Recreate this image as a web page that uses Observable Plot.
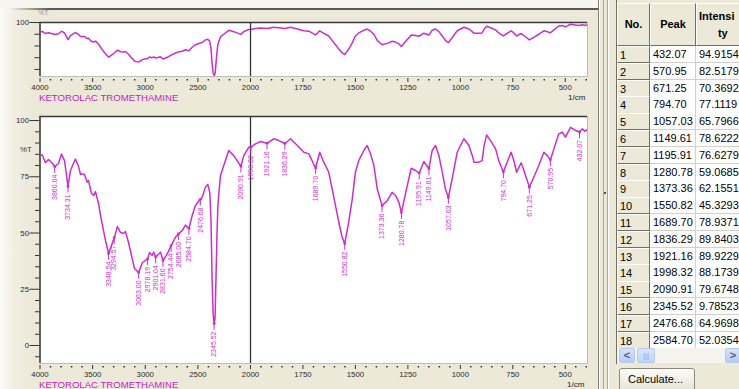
<!DOCTYPE html>
<html><head><meta charset="utf-8">
<script src="https://cdn.jsdelivr.net/npm/d3@7"></script>
<script src="https://cdn.jsdelivr.net/npm/@observablehq/plot@0.6"></script>
<style>
html,body{margin:0;padding:0}
body{width:739px;height:389px;overflow:hidden;position:relative;background:#ece9d8;font-family:"Liberation Sans",Arial,sans-serif}
#leftbg{position:absolute;left:0;top:0;width:598px;height:389px;background:linear-gradient(to right,#fbfaf6 0px,#f1efe4 14px,#ece9d8 32px)}
#topbar{position:absolute;left:0;top:0;width:598px;height:8px;background:#f6f5f0}
#topline{position:absolute;left:10px;top:8px;width:588px;height:2px;background:linear-gradient(to right,rgba(90,90,90,0),#5a5a5a 40px)}
.chart{position:absolute;left:0}
#topChart{top:0}
#mainChart{top:100px}
.title{position:absolute;left:39px;font-size:9.6px;color:#c21fc2;white-space:nowrap}
.unit{position:absolute;font-size:8px;color:#222;white-space:nowrap}
.pct{position:absolute;font-size:7.8px;color:#333}
#side{position:absolute;left:598px;top:0;width:141px;height:389px;background:#ece9d8;overflow:hidden}
.vl{position:absolute;top:0;width:1px;height:389px}
.cell{position:absolute;box-sizing:border-box;font-size:11px;line-height:16px;white-space:nowrap;overflow:hidden;color:#000}
.no{background:#ece9d8;border-top:1px solid #fff;border-left:1px solid #fff;border-right:1px solid #716f64;border-bottom:1px solid #716f64;padding-left:2px}
.val{background:#fff;border-right:1px solid #d4d0c8;border-bottom:1px solid #d4d0c8;padding-left:3px}
.hd{background:#ece9d8;border-top:1px solid #fff;border-left:1px solid #fff;border-right:1px solid #716f64;border-bottom:1px solid #716f64;font-weight:bold;text-align:center;line-height:17px;display:flex;align-items:center;justify-content:center}
</style></head><body>
<div id="leftbg"></div><div id="topbar"></div><div id="topline"></div>
<div class="pct" style="left:38px;top:9px;color:#9a9a9a;font-size:7px">%T</div>
<div id="topChart" class="chart"></div>
<div id="mainChart" class="chart"></div>
<div class="title" style="top:92px">KETOROLAC TROMETHAMINE</div>
<div class="unit" style="left:568px;top:93px">1/cm</div>
<div class="pct" style="left:20px;top:145px">%T</div>
<div class="title" style="top:379px">KETOROLAC TROMETHAMINE</div>
<div class="unit" style="left:567px;top:380px">1/cm</div>
<div id="side"></div>
<script>
// ---- spectrum (wavenumber 1/cm, transmittance %T) ----
const wavenumber = [3995,3979,3948,3919,3881,3860,3824,3796,3767,3734,3710,3682,3663,3634,3615,3599,3577,3552,3539,3511,3489,3473,3444,3425,3406,3378,3348,3321,3294,3264,3235,3207,3188,3159,3131,3102,3063,3026,2978,2960,2934,2919,2901,2871,2855,2831,2791,2754,2713,2685,2649,2618,2585,2554,2523,2477,2459,2428,2406,2387,2375,2365,2355,2345.5,2337,2328,2318,2310,2301,2285,2254,2206,2159,2091,2064,2017,1998,1976,1952,1921,1889,1865,1836,1809,1777,1746,1722,1690,1670,1651,1627,1611,1595,1579,1563,1551,1532,1515,1500,1484,1460,1444,1428,1412,1396,1373,1348,1325,1309,1293,1281,1253,1234,1214,1196,1174,1150,1134,1118,1102,1086,1071,1057,1039,1015,983,959,943,935,912,896,888,875,856,832,817,795,777,758,745,732,721,710,697,671,650,626,602,586,571,554,531,514,499,475,451,432,419,408,398];
const transmittance = [84.4,84.8,81.3,82.7,80.9,79.5,80.9,85.1,82.2,70.7,77.8,80.9,82.9,79.6,76.0,76.3,76.0,72.6,73.3,67.6,66.7,68.4,63.1,57.8,53.3,46.7,40.9,44.4,48.0,52.9,50.2,49.8,50.7,45.8,40.0,34.2,32.5,36.9,38.5,41.3,40.0,41.5,39.3,40.7,41.5,37.8,40.7,44.4,48.1,49.6,51.1,53.5,52.0,57.8,62.2,65.0,65.9,70.4,71.6,68.1,55,30,14,9.8,12,30,50,62,67.4,75.6,80.0,86.7,84.4,79.7,84.4,88.1,88.2,89.6,90.7,89.9,91.9,91.1,89.8,91.9,88.9,85.9,85.2,78.9,85.9,81.5,77.0,69.6,62.2,54.8,48.1,45.3,54.8,65.2,77.0,82.2,86.7,88.9,85.2,80.0,69.6,62.2,64.4,68.1,66.7,63.7,59.1,71.1,78.8,77.8,76.6,81.8,78.6,86.7,88.9,84.4,77.0,69.6,65.8,74.1,85.9,91.9,88.9,84.4,81.5,81.5,82.2,88.1,93.6,91.1,87.4,82.2,77.1,81.5,85.9,82.2,77.0,79.2,81.2,77.8,70.4,74.8,80.0,85.9,84.4,82.5,87.4,94.1,94.8,92.6,97.0,95.6,94.9,96.3,95.2,95.8];

// ---- labelled peaks ----
const peakWavenumber = [3860.04,3734.31,3348.54,3294.57,3063.00,2978.19,2901.04,2831.60,2754.44,2685.00,2584.70,2476.68,2345.52,2090.91,1998.32,1921.16,1836.29,1689.70,1550.82,1373.36,1280.78,1195.91,1149.61,1057.03,794.70,671.25,570.95,432.07];
const peakTransmittance = [79.5,70.7,40.9,48.0,32.5,38.5,39.3,37.8,44.4,49.6,52.04,64.97,9.79,79.67,88.17,89.92,89.84,78.94,45.33,62.16,59.07,76.63,78.62,65.80,77.11,70.37,82.52,94.92];

// ---- peak table ----
const tableNo = [1,2,3,4,5,6,7,8,9,10,11,12,13,14,15,16,17,18];
const tablePeak = ["432.07","570.95","671.25","794.70","1057.03","1149.61","1195.91","1280.78","1373.36","1550.82","1689.70","1836.29","1921.16","1998.32","2090.91","2345.52","2476.68","2584.70"];
const tableIntensity = ["94.9154","82.5179","70.3692","77.1119","65.7966","78.6222","76.6279","59.0685","62.1551","45.3293","78.9371","89.8403","89.9229","88.1739","79.6748","9.78523","64.9698","52.0354"];

// ---- axis ticks ----
const xMajorTicks = [4000,3500,3000,2500,2000,1750,1500,1250,1000,750,500];
const xMinorTicks = [3900,3800,3700,3600,3400,3300,3200,3100,2900,2800,2700,2600,2400,2300,2200,2100,1950,1900,1850,1800,1700,1650,1600,1550,1450,1400,1350,1300,1200,1150,1100,1050,950,900,850,800,700,650,600,550,450,400];
const mainYTicks = [0,25,50,75,100];
const mainYMinor = [-5,5,10,15,20,30,35,40,45,55,60,65,70,80,85,90,95];
const topYTicks = [100];
const topYMinor = [20,40,60,80];

const spectrum = wavenumber.map((w, i) => ({w, t: transmittance[i]}));
const peaks = peakWavenumber.map((w, i) => ({w, t: peakTransmittance[i], label: w.toFixed(2)}));

const LINE = "#cc2ecc";
const W = 598;
const xScale = {type: "linear", domain: [4000, 2000, 394], range: [39.5, 250, 587]};
const axisFont = {fontSize: 7.8, fill: "#2a2a2a", fontFamily: "Liberation Sans, Arial, sans-serif"};

function xAxes() {
  return [
    Plot.axisX({ticks: xMajorTicks, tickSize: 4, tickPadding: 2, dy: 2, label: null, stroke: "#333", tickFormat: d => String(d), ...axisFont}),
    Plot.axisX({ticks: xMinorTicks, tickSize: 1.5, dy: 3, label: null, stroke: "#333", strokeWidth: 1.5, tickFormat: () => ""})
  ];
}

// ---- top overview panel ----
const topY = [8, 100];
const topChart = Plot.plot({
  width: W, height: 100,
  marginLeft: 39.5, marginRight: 11, marginTop: 22, marginBottom: 24,
  style: {background: "transparent", overflow: "visible"},
  x: xScale,
  y: {domain: topY, range: [76, 22]},
  marks: [
    Plot.frame({fill: "white", stroke: "#bdbdbd"}),
    Plot.ruleX([xScale.domain[0]], {stroke: "#3a3a3a", strokeWidth: 1.5}),
    Plot.ruleY([topY[1]], {stroke: "#3a3a3a", strokeWidth: 1.5}),
    Plot.line(spectrum, {x: "w", y: "t", stroke: LINE, strokeWidth: 1.5}),
    Plot.ruleX([2000], {stroke: "#333", strokeWidth: 1.3}),
    Plot.axisY({ticks: topYTicks, tickSize: 10, tickPadding: 1, label: null, stroke: "#333", ...axisFont}),
    Plot.axisY({ticks: topYMinor, tickSize: 5, label: null, stroke: "#333", tickFormat: () => ""}),
    ...xAxes()
  ]
});
document.getElementById("topChart").append(topChart);

// ---- main panel ----
const mainY = [-8, 101.8];
const mainChart = Plot.plot({
  width: W, height: 289,
  marginLeft: 39.5, marginRight: 11, marginTop: 16, marginBottom: 26,
  style: {background: "transparent", overflow: "visible"},
  x: xScale,
  y: {domain: mainY, range: [263, 16]},
  marks: [
    Plot.frame({fill: "white", stroke: "#bdbdbd"}),
    Plot.ruleX([xScale.domain[0]], {stroke: "#3a3a3a", strokeWidth: 1.5}),
    Plot.ruleY([mainY[1]], {stroke: "#3a3a3a", strokeWidth: 1.5}),
    Plot.line(spectrum, {x: "w", y: "t", stroke: LINE, strokeWidth: 1.5}),
    Plot.ruleX([2000], {stroke: "#333", strokeWidth: 1.3}),
    Plot.ruleX(peaks, {x: "w", y1: "t", y2: d => d.t - 3, stroke: LINE, strokeWidth: 1}),
    Plot.dot(peaks, {x: "w", y: "t", r: 1.4, fill: LINE, stroke: null}),
    Plot.text(peaks, {x: "w", y: "t", text: "label", rotate: -90, textAnchor: "end", dy: 8, fill: LINE, fontSize: 7, fontFamily: "Liberation Sans, Arial, sans-serif"}),
    Plot.axisY({ticks: mainYTicks, tickSize: 10, tickPadding: 1, label: null, stroke: "#333", ...axisFont}),
    Plot.axisY({ticks: mainYMinor, tickSize: 4.5, label: null, stroke: "#333", tickFormat: () => ""}),
    ...xAxes()
  ]
});
document.getElementById("mainChart").append(mainChart);

// ---- right-hand peak table ----
const side = document.getElementById("side");
function add(cls, css, txt) {
  const d = document.createElement("div");
  d.className = cls; d.style.cssText = css;
  if (txt !== undefined) d.innerHTML = txt;
  side.append(d); return d;
}
// splitter lines
add("vl", "left:0;background:#7f7d72");
add("vl", "left:1px;background:#fff");
add("vl", "left:5px;background:#aca899");
add("vl", "left:9px;background:#aca899");
add("vl", "left:10px;background:#fff");
add("vl", "left:18px;background:#716f64;height:364px");
add("", "position:absolute;left:6px;top:192px;width:2px;height:2px;background:#555");
const TX = 19, ROW0 = 46, RH = 16.8;
const cols = [{x: TX, w: 33}, {x: TX + 33, w: 46}, {x: TX + 79, w: 60}];
add("cell hd", `left:${cols[0].x}px;top:3px;width:${cols[0].w}px;height:${ROW0 - 3}px`, "No.");
add("cell hd", `left:${cols[1].x}px;top:3px;width:${cols[1].w}px;height:${ROW0 - 3}px`, "Peak");
add("cell hd", `left:${cols[2].x}px;top:3px;width:${cols[2].w}px;height:${ROW0 - 3}px;justify-content:flex-start;padding-left:2px;text-align:center`, "Intensi<br>&nbsp;&nbsp;&nbsp;&nbsp;ty");
tableNo.forEach((n, i) => {
  const top = ROW0 + i * RH;
  add("cell no", `left:${cols[0].x}px;top:${top}px;width:${cols[0].w}px;height:${RH + 0.5}px`, String(n));
  add("cell val", `left:${cols[1].x}px;top:${top}px;width:${cols[1].w}px;height:${RH + 0.5}px`, tablePeak[i]);
  add("cell val", `left:${cols[2].x}px;top:${top}px;width:${cols[2].w}px;height:${RH + 0.5}px`, tableIntensity[i]);
});
// horizontal scrollbar
const sbTop = ROW0 + tableNo.length * RH;
add("", `position:absolute;left:${TX}px;top:${sbTop}px;width:130px;height:15px;background:#f4f3ee`);
add("", `position:absolute;left:${TX + 2}px;top:${sbTop}px;width:16px;height:15px;border-radius:2px;background:linear-gradient(#d6e2fd,#b7cbf7);border:1px solid #b8c9ef;box-sizing:border-box;color:#4d6185;font-size:11px;font-weight:bold;text-align:center;line-height:13px`, "&lt;");
add("", `position:absolute;left:${TX + 20}px;top:${sbTop}px;width:18px;height:15px;border-radius:2px;background:linear-gradient(#d9e5fd,#c2d4f9);border:1px solid #b8c9ef;box-sizing:border-box;color:#8fa6d6;font-size:8px;text-align:center;line-height:13px`, "|||");
add("", `position:absolute;left:${TX + 108}px;top:${sbTop}px;width:16px;height:15px;border-radius:2px;background:linear-gradient(#d6e2fd,#b7cbf7);border:1px solid #b8c9ef;box-sizing:border-box;color:#4d6185;font-size:11px;font-weight:bold;text-align:center;line-height:13px`, "&gt;");
// button
add("", `position:absolute;left:${TX + 2}px;top:368px;width:76px;height:24px;border:1px solid #8a887c;border-radius:3px;box-sizing:border-box;background:linear-gradient(#fbfbf8,#e6e3d6);font-size:11px;line-height:20px;padding-left:8px;color:#000;white-space:nowrap`, "Calculate...");
</script>
</body></html>
